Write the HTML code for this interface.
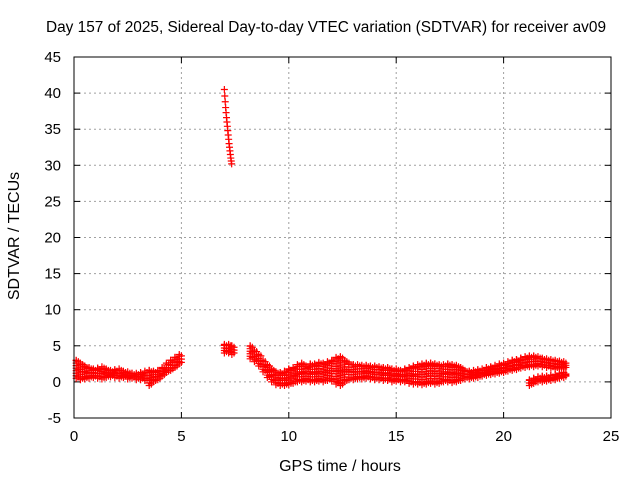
<!DOCTYPE html>
<html><head><meta charset="utf-8"><style>
body{margin:0;background:#fff}
svg text{font-family:"Liberation Sans",sans-serif;font-size:15px;fill:#000}
</style></head><body>
<svg id="c" width="640" height="480">
<rect width="640" height="480" fill="#fff"/>
<text x="326" y="32" text-anchor="middle" style="font-size:15.4px">Day 157 of 2025, Sidereal Day-to-day VTEC variation (SDTVAR) for receiver av09</text>
<text x="340" y="471" text-anchor="middle" style="font-size:16px">GPS time / hours</text>
<text transform="translate(19,236) rotate(-90)" text-anchor="middle" style="font-size:16px">SDTVAR / TECUs</text>
<g id="grid"></g><g id="marks"></g>
<rect x="74" y="57" width="537" height="361" fill="none" stroke="#000"/>
</svg>
<script>
const xTicks=[0,5,10,15,20,25];
const yTicks=[-5,0,5,10,15,20,25,30,35,40,45];
const bandT=[0.1,0.3,0.5,0.7,0.9,1.1,1.3,1.5,1.7,1.9,2.1,2.3,2.5,2.7,2.9,3.1,3.3,3.5,3.7,3.9,4.1,4.3,4.5,4.7,4.9,
7.0,7.2,7.35,
8.2,8.4,8.6,8.8,9.0,9.2,9.4,9.6,9.8,10.0,10.2,10.4,10.6,10.8,11.0,11.2,11.4,11.6,11.8,12.0,12.2,12.4,12.6,12.8,13.0,13.2,13.4,13.6,13.8,14.0,14.2,14.4,14.6,14.8,15.0,15.2,15.4,15.6,15.8,16.0,16.2,16.4,16.6,16.8,17.0,17.2,17.4,17.6,17.8,18.0,18.2,18.4,18.6,18.8,19.0,19.2,19.4,19.6,19.8,20.0,20.2,20.4,20.6,20.8,21.0,21.2,21.4,21.6,21.8,22.0,22.2,22.4,22.6,22.8,
21.2,21.4,21.6,21.8,22.0,22.2,22.4,22.6,22.8];
const bandLow=[0.5,0.3,0.4,0.5,0.6,0.5,0.4,0.6,0.7,0.6,0.5,0.6,0.4,0.5,0.3,0.3,0.2,-0.5,0.0,0.3,0.8,1.3,1.6,2.0,2.5,
4.0,4.0,3.8,
3.2,2.8,2.2,1.4,0.6,0.0,-0.4,-0.5,-0.5,-0.4,-0.2,0.0,0.0,0.1,0.0,0.0,0.1,0.0,0.2,0.1,-0.3,-0.5,0.0,0.3,0.3,0.4,0.4,0.5,0.4,0.3,0.3,0.2,0.2,0.0,0.1,0.0,0.0,-0.2,-0.3,-0.3,-0.4,-0.3,-0.2,-0.3,-0.2,0.0,0.0,-0.1,0.0,0.2,0.4,0.4,0.5,0.6,0.8,0.9,1.0,1.1,1.2,1.3,1.5,1.6,1.7,1.9,2.0,2.1,2.1,2.2,2.1,2.0,1.9,1.8,1.8,1.8,
-0.5,-0.2,0.0,0.0,0.1,0.2,0.3,0.5,0.6];
const bandHigh=[3.0,2.6,2.2,2.0,1.8,1.9,2.1,1.8,1.6,1.7,1.8,1.5,1.4,1.2,1.2,1.3,1.5,1.6,1.5,1.6,2.0,2.6,3.0,3.4,3.8,
5.2,5.2,5.0,
5.0,4.4,3.8,3.0,2.4,1.8,1.4,1.3,1.5,1.8,2.0,2.4,2.6,2.2,2.5,2.5,2.7,2.6,2.8,3.0,3.4,3.5,3.0,2.6,2.4,2.4,2.3,2.3,2.2,2.2,2.1,2.0,2.0,1.8,1.8,1.6,1.8,2.0,2.2,2.4,2.5,2.6,2.6,2.5,2.4,2.4,2.5,2.4,2.3,2.0,1.6,1.5,1.6,1.7,1.8,2.0,2.1,2.3,2.5,2.6,2.8,3.0,3.1,3.3,3.5,3.6,3.6,3.5,3.3,3.2,3.1,3.0,2.9,2.8,
0.3,0.5,0.7,0.8,0.8,0.9,1.0,1.2,1.3];
const spikeT=[7.00,7.02,7.04,7.06,7.08,7.10,7.12,7.14,7.16,7.18,7.20,7.22,7.24,7.26,7.28,7.30,7.32,7.34];
const spikeV=[40.5,39.6,38.8,38.0,37.3,36.6,36.0,35.4,34.8,34.2,33.6,33.0,32.5,32.0,31.5,31.0,30.6,30.2];
const X0=74,X1=611,Y0=418,Y1=57;
const sx=h=>X0+(h-0)/25*(X1-X0);
const sy=v=>Y0-(v+5)/50*(Y0-Y1);
const NS='http://www.w3.org/2000/svg';
const grid=document.getElementById('grid'),marks=document.getElementById('marks');
function mk(t,p,a){const e=document.createElementNS(NS,t);for(const k in a)e.setAttribute(k,a[k]);p.appendChild(e);return e;}
xTicks.forEach(t=>{const x=sx(t);
 if(t>0&&t<25){const l=mk('line',grid,{x1:x,x2:x,y1:Y1,y2:Y0,stroke:'#a0a0a0','stroke-dasharray':'2,3'});
 
 }
 mk('line',grid,{x1:x,x2:x,y1:Y0,y2:Y0-6,stroke:'#000'});mk('line',grid,{x1:x,x2:x,y1:Y1,y2:Y1+6,stroke:'#000'});
 const tx=mk('text',grid,{x:x,y:Y0+23,'text-anchor':'middle'});tx.textContent=t;
 
 });
yTicks.forEach(t=>{const y=sy(t);
 if(t>-5&&t<45){const l=mk('line',grid,{x1:X0,x2:X1,y1:y,y2:y,stroke:'#a0a0a0','stroke-dasharray':'2,3'});
 
 }
 mk('line',grid,{x1:X0,x2:X0+6,y1:y,y2:y,stroke:'#000'});mk('line',grid,{x1:X1,x2:X1-6,y1:y,y2:y,stroke:'#000'});
 const tx=mk('text',grid,{x:X0-13,y:y+5,'text-anchor':'end'});tx.textContent=t;
 
 });
function plus(h,v){const x=sx(h),y=sy(v);
 const p=mk('path',marks,{d:`M${x-3.5},${y}h7M${x},${y-3.5}v7`,stroke:'#f00','stroke-width':1.2});
 
 }
bandT.forEach((t,i)=>{const lo=bandLow[i],hi=bandHigh[i];
 for(let v=lo;v<=hi+0.001;v+=0.35)plus(t,v);plus(t,hi);
 plus(t+0.1,(lo+hi)/2);plus(t+0.1,lo+0.2);plus(t+0.1,hi-0.2);});
spikeT.forEach((t,i)=>plus(t,spikeV[i]));
</script>
</body></html>
